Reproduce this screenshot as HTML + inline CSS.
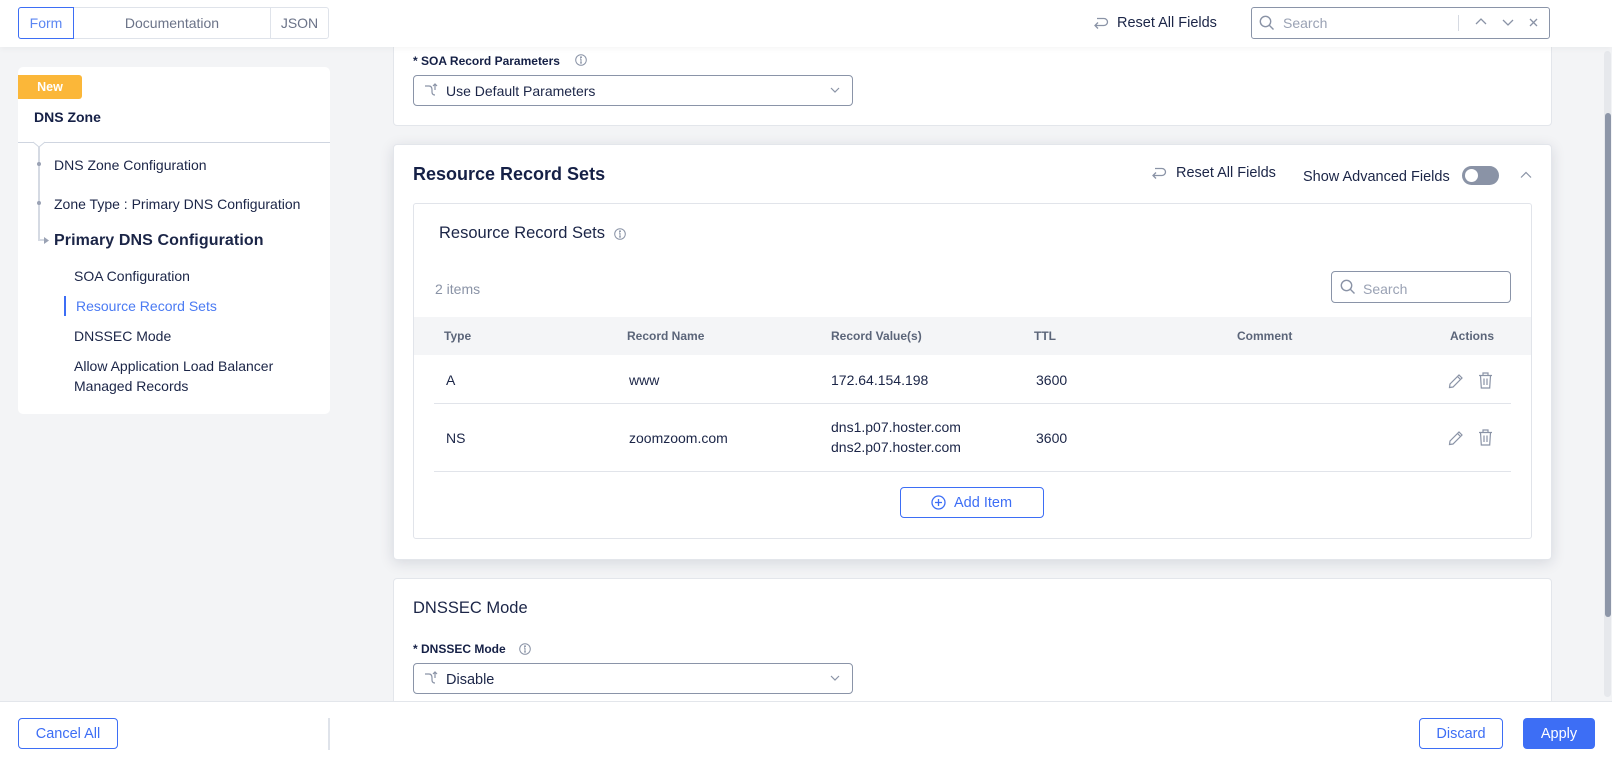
<!DOCTYPE html>
<html><head><meta charset="utf-8"><style>
*{box-sizing:border-box;margin:0;padding:0}
body{width:1612px;height:762px;overflow:hidden;background:#f3f4f6;font-family:"Liberation Sans",Arial,sans-serif;color:#1b2547;position:relative}
.a{position:absolute}
.t{position:absolute;white-space:nowrap;line-height:20px;height:20px}
.card{position:absolute;background:#fff;border:1px solid #e3e6eb;border-radius:4px}
svg{position:absolute;overflow:visible}
</style></head><body>

<!-- top bar -->
<div class="a" style="left:0;top:0;width:1612px;height:47px;background:#fff;box-shadow:0 2px 6px rgba(0,0,0,0.04);z-index:5">
  <div class="a" style="left:18px;top:7px;width:311px;height:32px;border:1px solid #dfe3ea;border-radius:3px"></div>
  <div class="a" style="left:18px;top:7px;width:56px;height:32px;border:1px solid #3d6ef5;border-radius:3px 0 0 3px"></div>
  <div class="a" style="left:270px;top:8px;width:1px;height:30px;background:#dfe3ea"></div>
  <div class="t" style="left:18px;top:13px;width:56px;text-align:center;font-size:14px;color:#5b86f2">Form</div>
  <div class="t" style="left:74px;top:13px;width:196px;text-align:center;font-size:14px;color:#6b7388">Documentation</div>
  <div class="t" style="left:270px;top:13px;width:59px;text-align:center;font-size:14px;color:#6b7388">JSON</div>

  <svg style="left:1093px;top:15px" width="16" height="16" viewBox="0 0 16 16" fill="none" stroke="#8a93a6" stroke-width="1.3"><path d="M4 3.5 H11 a3.5 3.5 0 0 1 0 7 H2 M5 7.5 L2 10.5 L5 13.5"/></svg>
  <div class="t" style="left:1117px;top:13px;font-size:14.5px;color:#1b2547">Reset All Fields</div>

  <div class="a" style="left:1251px;top:7px;width:299px;height:32px;border:1px solid #8a94a8;border-radius:3px"></div>
  <svg style="left:1259px;top:15px" width="16" height="16" viewBox="0 0 16 16" fill="none" stroke="#8a93a6" stroke-width="1.4"><circle cx="6.5" cy="6.5" r="5.2"/><path d="M10.3 10.3 L14.5 14.5"/></svg>
  <div class="t" style="left:1283px;top:13px;font-size:14px;color:#9aa2b4">Search</div>
  <div class="a" style="left:1458px;top:15px;width:1px;height:16px;background:#d6dae2"></div>
  <svg style="left:1475px;top:17px" width="12" height="10" viewBox="0 0 12 10" fill="none" stroke="#8a93a6" stroke-width="1.3"><path d="M1 7 L6 2 L11 7"/></svg>
  <svg style="left:1502px;top:17px" width="12" height="10" viewBox="0 0 12 10" fill="none" stroke="#8a93a6" stroke-width="1.3"><path d="M1 3 L6 8 L11 3"/></svg>
  <svg style="left:1529px;top:18px" width="9" height="9" viewBox="0 0 9 9" fill="none" stroke="#8a93a6" stroke-width="1.3"><path d="M1 1 L8 8 M8 1 L1 8"/></svg>
</div>

<!-- left nav card -->
<div class="card" style="left:18px;top:67px;width:312px;height:347px;border:none;border-radius:5px"></div>
<div class="a" style="left:18px;top:75px;width:64px;height:24px;background:#fbb739;border-radius:0 3px 3px 0"></div>
<div class="t" style="left:18px;top:77px;width:64px;text-align:center;font-size:12.5px;font-weight:bold;color:#fff">New</div>
<div class="t" style="left:34px;top:107px;font-size:14px;font-weight:bold;color:#152046">DNS Zone</div>
<div class="a" style="left:18px;top:142px;width:312px;height:1px;background:#cfd5e0"></div>
<svg style="left:33px;top:142px" width="12" height="6" viewBox="0 0 12 6" fill="#fff" stroke="#cfd5e0" stroke-width="1"><path d="M0 0 L6 5 L12 0"/></svg>
<div class="a" style="left:38px;top:146px;width:1.5px;height:94px;background:#d5dae3"></div>
<div class="a" style="left:38px;top:239px;width:7px;height:1.5px;background:#d5dae3"></div>
<svg style="left:44px;top:237px" width="6" height="7" viewBox="0 0 6 7" fill="#9aa2b4"><path d="M0 0 L5 3.5 L0 7Z"/></svg>
<div class="a" style="left:36.5px;top:161.5px;width:4px;height:4px;border-radius:50%;background:#9aa2b4"></div>
<div class="a" style="left:36.5px;top:200.5px;width:4px;height:4px;border-radius:50%;background:#9aa2b4"></div>
<div class="t" style="left:54px;top:155px;font-size:14px">DNS Zone Configuration</div>
<div class="t" style="left:54px;top:194px;font-size:14px">Zone Type : Primary DNS Configuration</div>
<div class="t" style="left:54px;top:231px;font-size:16px;font-weight:bold;color:#1b2547;letter-spacing:0.1px">Primary DNS Configuration</div>
<div class="t" style="left:74px;top:266px;font-size:14px">SOA Configuration</div>
<div class="a" style="left:64px;top:296px;width:2px;height:20px;background:#3d6ef5"></div>
<div class="t" style="left:76px;top:296px;font-size:14px;color:#4a7af3">Resource Record Sets</div>
<div class="t" style="left:74px;top:326px;font-size:14px">DNSSEC Mode</div>
<div class="t" style="left:74px;top:356px;font-size:14px">Allow Application Load Balancer</div>
<div class="t" style="left:74px;top:376px;font-size:14px">Managed Records</div>

<!-- SOA card -->
<div class="card" style="left:393px;top:20px;width:1159px;height:106px"></div>
<div class="t" style="left:413px;top:51px;font-size:12px;font-weight:bold;color:#152046">* SOA Record Parameters</div>
<svg style="left:575px;top:54px" width="12" height="12" viewBox="0 0 12 12" fill="none" stroke="#8a93a6" stroke-width="1"><circle cx="6" cy="6" r="5.3"/><path d="M6 5 V9 M5 9 H7 M5 5 H6"/><circle cx="6" cy="3.3" r="0.5" fill="#8a93a6"/></svg>
<div class="a" style="left:413px;top:75px;width:440px;height:31px;border:1px solid #8a94a8;border-radius:4px;background:#fff"></div>
<svg style="left:424px;top:83px" width="15" height="15" viewBox="0 0 15 15" fill="none" stroke="#8a93a6" stroke-width="1.2"><path d="M1 3 H5 Q8 3 8 7 V9 Q8 12 11 12 M11 1 V7 M9 3 L11 1 L13 3"/></svg>
<div class="t" style="left:446px;top:81px;font-size:14px">Use Default Parameters</div>
<svg style="left:830px;top:87px" width="10" height="6" viewBox="0 0 10 6" fill="none" stroke="#8a93a6" stroke-width="1.2"><path d="M1 1 L5 5 L9 1"/></svg>

<!-- RRS card -->
<div class="card" style="left:393px;top:144px;width:1159px;height:416px;box-shadow:0 3px 14px rgba(20,30,60,0.13)"></div>
<div class="t" style="left:413px;top:164px;font-size:18px;font-weight:bold;color:#152046">Resource Record Sets</div>
<svg style="left:1151px;top:165px" width="16" height="16" viewBox="0 0 16 16" fill="none" stroke="#8a93a6" stroke-width="1.3"><path d="M4 3.5 H11 a3.5 3.5 0 0 1 0 7 H2 M5 7.5 L2 10.5 L5 13.5"/></svg>
<div class="t" style="left:1176px;top:163px;font-size:14.5px">Reset All Fields</div>
<div class="t" style="left:1303px;top:167px;font-size:14.5px">Show Advanced Fields</div>
<div class="a" style="left:1462px;top:166px;width:37px;height:19px;border-radius:10px;background:#8a93a6"></div>
<div class="a" style="left:1465px;top:169px;width:13px;height:13px;border-radius:50%;background:#fff"></div>
<svg style="left:1520px;top:171px" width="12" height="8" viewBox="0 0 12 8" fill="none" stroke="#8a93a6" stroke-width="1.2"><path d="M1 6.5 L6 1.5 L11 6.5"/></svg>

<div class="a" style="left:413px;top:203px;width:1119px;height:336px;border:1px solid #e1e4ea;border-radius:3px;background:#fff"></div>
<div class="t" style="left:439px;top:223px;font-size:16.5px">Resource Record Sets</div>
<svg style="left:614px;top:228px" width="12" height="12" viewBox="0 0 12 12" fill="none" stroke="#8a93a6" stroke-width="1"><circle cx="6" cy="6" r="5.3"/><path d="M6 5 V9 M5 9 H7 M5 5 H6"/><circle cx="6" cy="3.3" r="0.5" fill="#8a93a6"/></svg>
<div class="t" style="left:435px;top:279px;font-size:14px;color:#8a93a6">2 items</div>
<div class="a" style="left:1331px;top:271px;width:180px;height:32px;border:1px solid #8a94a8;border-radius:4px"></div>
<svg style="left:1340px;top:279px" width="16" height="16" viewBox="0 0 16 16" fill="none" stroke="#8a93a6" stroke-width="1.4"><circle cx="6.5" cy="6.5" r="5.2"/><path d="M10.3 10.3 L14.5 14.5"/></svg>
<div class="t" style="left:1363px;top:279px;font-size:14px;color:#9aa2b4">Search</div>

<div class="a" style="left:414px;top:317px;width:1117px;height:38px;background:#f4f5f7"></div>
<div class="t" style="left:444px;top:326px;font-size:12px;font-weight:bold;color:#5b6579">Type</div>
<div class="t" style="left:627px;top:326px;font-size:12px;font-weight:bold;color:#5b6579">Record Name</div>
<div class="t" style="left:831px;top:326px;font-size:12px;font-weight:bold;color:#5b6579">Record Value(s)</div>
<div class="t" style="left:1034px;top:326px;font-size:12px;font-weight:bold;color:#5b6579">TTL</div>
<div class="t" style="left:1237px;top:326px;font-size:12px;font-weight:bold;color:#5b6579">Comment</div>
<div class="t" style="left:1450px;top:326px;font-size:12px;font-weight:bold;color:#5b6579">Actions</div>

<div class="t" style="left:446px;top:370px;font-size:14px">A</div>
<div class="t" style="left:629px;top:370px;font-size:14px">www</div>
<div class="t" style="left:831px;top:370px;font-size:14px">172.64.154.198</div>
<div class="t" style="left:1036px;top:370px;font-size:14px">3600</div>
<div class="a" style="left:434px;top:403px;width:1077px;height:1px;background:#e1e4ea"></div>

<div class="t" style="left:446px;top:428px;font-size:14px">NS</div>
<div class="t" style="left:629px;top:428px;font-size:14px">zoomzoom.com</div>
<div class="t" style="left:831px;top:417px;font-size:14px">dns1.p07.hoster.com</div>
<div class="t" style="left:831px;top:437px;font-size:14px">dns2.p07.hoster.com</div>
<div class="t" style="left:1036px;top:428px;font-size:14px">3600</div>
<div class="a" style="left:434px;top:471px;width:1077px;height:1px;background:#e1e4ea"></div>

<!-- action icons -->
<svg style="left:1448px;top:373px" width="16" height="16" viewBox="0 0 16 16" fill="none" stroke="#8a93a6" stroke-width="1.2"><path d="M1.5 14.5 L2 11 L11 2 L14 5 L5 14 Z M9.5 3.5 L12.5 6.5"/></svg>
<svg style="left:1478px;top:372px" width="15" height="17" viewBox="0 0 15 17" fill="none" stroke="#8a93a6" stroke-width="1.2"><path d="M1 3.5 H14 M5 3.5 V1 H10 V3.5 M2.5 3.5 L3.3 16 H11.7 L12.5 3.5 M6 6.5 V13 M9 6.5 V13"/></svg>
<svg style="left:1448px;top:430px" width="16" height="16" viewBox="0 0 16 16" fill="none" stroke="#8a93a6" stroke-width="1.2"><path d="M1.5 14.5 L2 11 L11 2 L14 5 L5 14 Z M9.5 3.5 L12.5 6.5"/></svg>
<svg style="left:1478px;top:429px" width="15" height="17" viewBox="0 0 15 17" fill="none" stroke="#8a93a6" stroke-width="1.2"><path d="M1 3.5 H14 M5 3.5 V1 H10 V3.5 M2.5 3.5 L3.3 16 H11.7 L12.5 3.5 M6 6.5 V13 M9 6.5 V13"/></svg>

<div class="a" style="left:900px;top:487px;width:144px;height:31px;border:1px solid #3d6ef5;border-radius:4px"></div>
<svg style="left:931px;top:495px" width="15" height="15" viewBox="0 0 15 15" fill="none" stroke="#3d6ef5" stroke-width="1.3"><circle cx="7.5" cy="7.5" r="6.5"/><path d="M7.5 4 V11 M4 7.5 H11"/></svg>
<div class="t" style="left:954px;top:493px;font-size:14.5px;color:#3d6ef5">Add Item</div>

<!-- DNSSEC card -->
<div class="card" style="left:393px;top:578px;width:1159px;height:160px"></div>
<div class="t" style="left:413px;top:598px;font-size:16.5px">DNSSEC Mode</div>
<div class="t" style="left:413px;top:639px;font-size:12px;font-weight:bold;color:#152046">* DNSSEC Mode</div>
<svg style="left:519px;top:643px" width="12" height="12" viewBox="0 0 12 12" fill="none" stroke="#8a93a6" stroke-width="1"><circle cx="6" cy="6" r="5.3"/><path d="M6 5 V9 M5 9 H7 M5 5 H6"/><circle cx="6" cy="3.3" r="0.5" fill="#8a93a6"/></svg>
<div class="a" style="left:413px;top:663px;width:440px;height:31px;border:1px solid #8a94a8;border-radius:4px;background:#fff"></div>
<svg style="left:424px;top:671px" width="15" height="15" viewBox="0 0 15 15" fill="none" stroke="#8a93a6" stroke-width="1.2"><path d="M1 3 H5 Q8 3 8 7 V9 Q8 12 11 12 M11 1 V7 M9 3 L11 1 L13 3"/></svg>
<div class="t" style="left:446px;top:670px;font-size:14.5px">Disable</div>
<svg style="left:830px;top:675px" width="10" height="6" viewBox="0 0 10 6" fill="none" stroke="#8a93a6" stroke-width="1.2"><path d="M1 1 L5 5 L9 1"/></svg>

<!-- scrollbar -->
<div class="a" style="left:1604px;top:51px;width:7px;height:646px;border-radius:4px;background:#e6e8ec"></div>
<div class="a" style="left:1605px;top:113px;width:6px;height:504px;border-radius:3px;background:#8d96a8"></div>

<!-- footer -->
<div class="a" style="left:0;top:701px;width:1612px;height:61px;background:#fff;border-top:1px solid #e3e6eb"></div>
<div class="a" style="left:18px;top:718px;width:100px;height:31px;border:1px solid #3d6ef5;border-radius:4px"></div>
<div class="t" style="left:18px;top:724px;width:100px;text-align:center;font-size:14.5px;color:#3d6ef5">Cancel All</div>
<div class="a" style="left:328px;top:718px;width:2px;height:32px;background:#dfe3ea"></div>
<div class="a" style="left:1419px;top:718px;width:84px;height:31px;border:1px solid #3d6ef5;border-radius:4px"></div>
<div class="t" style="left:1419px;top:724px;width:84px;text-align:center;font-size:14.5px;color:#3d6ef5">Discard</div>
<div class="a" style="left:1523px;top:718px;width:72px;height:31px;background:#3d6ef5;border-radius:4px"></div>
<div class="t" style="left:1523px;top:724px;width:72px;text-align:center;font-size:14.5px;color:#fff">Apply</div>

</body></html>
